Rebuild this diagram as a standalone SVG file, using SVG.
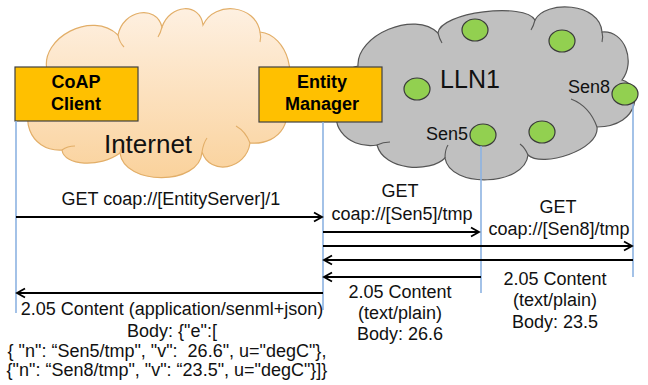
<svg xmlns="http://www.w3.org/2000/svg" width="648" height="385" viewBox="0 0 648 385">
  <defs>
    <linearGradient id="peach" x1="0" y1="0" x2="0" y2="1">
      <stop offset="0" stop-color="#FEF0E1"/>
      <stop offset="1" stop-color="#FAD29C"/>
    </linearGradient>
    <marker id="head" markerUnits="userSpaceOnUse" markerWidth="12" markerHeight="12" viewBox="0 0 12 12" refX="10" refY="6" orient="auto">
      <path d="M2,1.5 L10,6 L2,10.5" fill="none" stroke="#000" stroke-width="1.8"/>
    </marker>
  </defs>
  <style>
    text { font-family: "Liberation Sans", Arial, sans-serif; fill: #111; }
    .lbl { font-size: 18px; text-anchor: middle; }
    .box { fill: #FFC000; stroke: #404040; stroke-width: 1.2; }
    .boxtxt { font-size: 18px; font-weight: bold; text-anchor: middle; fill: #000; }
    .life { stroke: #8DB3E2; stroke-width: 1.6; fill: none; }
    .msg { stroke: #000; stroke-width: 1.8; fill: none; marker-end: url(#head); }
    .sensor { fill: #92D050; stroke: #3A3A3A; stroke-width: 1.2; }
    .inner-peach { fill: none; stroke: #E2AE68; stroke-width: 1.1; }
    .inner-gray { fill: none; stroke: #555; stroke-width: 1.1; }
  </style>

  <!-- Internet cloud -->
  <g id="internet">
    <path d="M47,70 C40,38 92,10 118,35 C123,10 156,4 162,27 C170,4 200,2 203,25 C215,0 256,5 260,32 C288,35 300,80 280,100 C296,115 282,146 250,143 C246,170 210,176 202,152 C200,186 124,186 120,153 C100,168 64,166 62,150 C28,152 18,112 38,100 C26,92 30,74 47,70 Z" fill="url(#peach)" stroke="#E2AE68" stroke-width="1.2"/>
    <path class="inner-peach" d="M118,35 C119,40 121,44 124,47"/>
    <path class="inner-peach" d="M162,27 C161,31 160,34 158,37"/>
    <path class="inner-peach" d="M260,32 C261,36 261,39 260,42"/>
    <path class="inner-peach" d="M250,143 C247,135 243,130 236,126"/>
    <path class="inner-peach" d="M202,152 C203,146 204,142 207,138"/>
    <path class="inner-peach" d="M120,153 C121,148 122,144 125,141"/>
    <path class="inner-peach" d="M62,150 C66,147 70,146 75,146"/>
    <text x="148" y="153" style="font-size:26px;text-anchor:middle">Internet</text>
  </g>

  <!-- LLN1 cloud with sensor motes -->
  <g id="lln1">
    <path d="M358,66 C356,35 415,10 438,33 C440,12 525,2 535,20 C545,0 600,2 602,32 C625,30 636,62 622,80 C642,85 642,126 597,127 C600,150 542,168 528,155 C525,186 450,189 445,158 C430,173 384,171 377,145 C344,150 326,118 343,106 C330,96 336,70 358,66 Z" fill="#C0C0C0" stroke="#555" stroke-width="1.2"/>
    <path class="inner-gray" d="M438,33 C439,37 440,40 442,43"/>
    <path class="inner-gray" d="M535,20 C534,24 533,27 531,30"/>
    <path class="inner-gray" d="M602,32 C603,36 603,39 602,42"/>
    <path class="inner-gray" d="M597,127 C592,113 584,104 571,99"/>
    <path class="inner-gray" d="M528,155 C526,150 524,147 520,144"/>
    <path class="inner-gray" d="M445,158 C445,152 446,148 448,145"/>
    <path class="inner-gray" d="M377,145 C381,143 385,142 390,142"/>
    <text x="470" y="88" style="font-size:25px;text-anchor:middle">LLN1</text>
  </g>

  <g id="mote-1"><ellipse class="sensor" cx="475" cy="30" rx="13" ry="11"/></g>
  <g id="mote-2"><ellipse class="sensor" cx="562" cy="41" rx="13" ry="11"/></g>
  <g id="mote-3"><ellipse class="sensor" cx="417" cy="89" rx="13" ry="11"/></g>
  <g id="mote-4"><ellipse class="sensor" cx="542" cy="132" rx="13" ry="11"/></g>
  <g id="sen5">
    <ellipse class="sensor" cx="483" cy="135" rx="13" ry="11"/>
    <text x="468" y="140" style="font-size:18px;text-anchor:end">Sen5</text>
  </g>
  <g id="sen8">
    <ellipse class="sensor" cx="625" cy="94" rx="13" ry="11"/>
    <text x="610" y="93" style="font-size:18px;text-anchor:end">Sen8</text>
  </g>

  <!-- Endpoint boxes -->
  <g id="coap-client">
    <rect class="box" x="15" y="67" width="123" height="54"/>
    <text class="boxtxt" x="76" y="88">CoAP</text>
    <text class="boxtxt" x="76" y="110">Client</text>
  </g>
  <g id="entity-manager">
    <rect class="box" x="259" y="67" width="123" height="55"/>
    <text class="boxtxt" x="322" y="88">Entity</text>
    <text class="boxtxt" x="322" y="110">Manager</text>
  </g>

  <!-- Lifelines -->
  <g id="lifelines">
    <line class="life" x1="16" y1="121" x2="16" y2="313"/>
    <line class="life" x1="323" y1="122" x2="323" y2="310"/>
    <line class="life" x1="481" y1="146" x2="481" y2="293"/>
    <line class="life" x1="633" y1="104" x2="633" y2="277"/>
  </g>

  <!-- Request / response messages -->
  <g id="connectors">
    <line class="msg" x1="16" y1="217" x2="322" y2="217"/>
    <line class="msg" x1="323" y1="232" x2="479" y2="232"/>
    <line class="msg" x1="323" y1="246" x2="632" y2="246"/>
    <line class="msg" x1="633" y1="260" x2="324" y2="260"/>
    <line class="msg" x1="481" y1="277" x2="324" y2="277"/>
    <line class="msg" x1="323" y1="293" x2="17" y2="293"/>
  </g>

  <!-- Message labels -->
  <g id="labels">
    <text class="lbl" x="171" y="205">GET coap://[EntityServer]/1</text>
    <text class="lbl" x="400" y="197">GET</text>
    <text class="lbl" x="402" y="220">coap://[Sen5]/tmp</text>
    <text class="lbl" x="558" y="213">GET</text>
    <text class="lbl" x="559" y="235">coap://[Sen8]/tmp</text>
    <text class="lbl" x="555" y="285">2.05 Content</text>
    <text class="lbl" x="555" y="306">(text/plain)</text>
    <text class="lbl" x="555" y="328">Body: 23.5</text>
    <text class="lbl" x="400" y="298">2.05 Content</text>
    <text class="lbl" x="400" y="319">(text/plain)</text>
    <text class="lbl" x="400" y="340">Body: 26.6</text>
    <text class="lbl" x="172" y="315">2.05 Content (application/senml+json)</text>
    <text class="lbl" x="172" y="337">Body: {"e":[</text>
    <text class="lbl" x="167" y="357" xml:space="preserve">{ "n": “Sen5/tmp", "v":  26.6", u="degC"},</text>
    <text class="lbl" x="167" y="376">{"n": “Sen8/tmp", "v": “23.5", u="degC"}]}</text>
  </g>
</svg>
